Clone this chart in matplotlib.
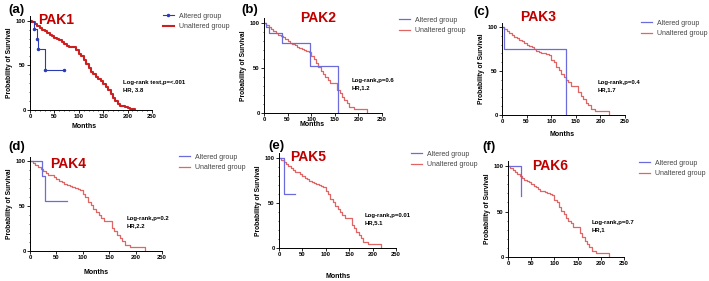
import matplotlib
matplotlib.use("Agg")
import matplotlib.pyplot as plt
from matplotlib.ticker import MultipleLocator

plt.rcParams['font.family'] = ['Liberation Sans', 'DejaVu Sans']

W, H = 709, 281

# unaltered group (shared cohort curve for b-f)
unalt_t = [0, 5, 10, 15, 20, 25, 30, 35, 40, 45, 50, 55, 60, 65, 70, 75, 80, 85, 90, 95,
           100, 105, 110, 115, 120, 125, 130, 135, 140, 150, 155, 160, 165, 170, 175, 180, 190, 218, 218]
unalt_s = [100, 98, 96, 93, 91, 89, 87, 85, 84, 82, 80, 78, 77, 75, 73, 72, 71, 70, 69, 68,
           63, 60, 55, 51, 47, 43, 40, 37, 33, 33, 26, 22, 18, 14, 11, 7, 4, 4, 0]

# PAK1 unaltered (larger cohort, smoother)
pak1_unalt_t = [0, 5, 10, 15, 20, 25, 30, 35, 40, 45, 50, 55, 60, 65, 70, 75, 80, 85, 90, 95,
                100, 105, 110, 115, 120, 125, 130, 135, 140, 145, 150, 155, 160, 165, 170,
                175, 180, 185, 190, 195, 200, 205, 210, 215]
pak1_unalt_s = [100, 98, 96, 94, 92, 90, 88, 86, 84, 83, 81, 79, 78, 76, 74, 72, 71, 70, 70, 67,
                63, 60, 56, 52, 47, 43, 40, 37, 35, 32, 29, 26, 22, 18, 13, 10, 7, 5, 4, 3,
                2, 1, 1, 0]

alt_t = {
    'PAK1': [0, 8, 15, 17, 30, 70],
    'PAK2': [0, 5, 10, 38, 97, 157, 157],
    'PAK3': [0, 5, 130, 130],
    'PAK4': [0, 23, 28, 70],
    'PAK5': [0, 8, 10, 35],
    'PAK6': [0, 28, 28],
}
alt_s = {
    'PAK1': [100, 91, 79, 68, 45, 45],
    'PAK2': [100, 95, 89, 78, 52, 0, 0],
    'PAK3': [100, 75, 0, 0],
    'PAK4': [100, 83, 56, 56],
    'PAK5': [100, 100, 60, 60],
    'PAK6': [100, 67, 67],
}
stats = {
    'PAK1': 'Log-rank test,p=<.001\nHR, 3.8',
    'PAK2': 'Log-rank,p=0.6\nHR,1.2',
    'PAK3': 'Log-rank,p=0.4\nHR,1.7',
    'PAK4': 'Log-rank,p=0.2\nHR,2.2',
    'PAK5': 'Log-rank,p=0.01\nHR,5.1',
    'PAK6': 'Log-rank,p=0.7\nHR,1',
}
panels = ['PAK1', 'PAK2', 'PAK3', 'PAK4', 'PAK5', 'PAK6']
letters = ['(a)', '(b)', '(c)', '(d)', '(e)', '(f)']

# layout in pixels: left, right, y of 0, y of 100
boxes = [(30, 152, 110, 20.7), (264, 382, 113, 23), (502, 625, 115, 27),
         (30, 162, 251, 161), (279, 396, 248, 158), (508, 624, 257, 166)]
letter_pos = [(8, 10), (241, 10), (473, 12), (8, 147), (268, 146), (482, 147)]
title_pos = [(38, 20), (300, 18), (520, 17), (50, 164), (290, 157), (532, 166)]
legend_pos = [(160, 10), (396, 14), (638, 17), (176, 151), (408, 148), (636, 157)]
stat_pos = [(123, 80), (352, 78), (598, 80), (127, 216), (365, 213), (592, 220)]
months_pos = [(84, 127), (312, 125), (562, 135), (96, 273), (338, 277), None]

fig = plt.figure(figsize=(W / 100, H / 100), dpi=100)


def fx(x):
    return x / W


def fy(y):
    return 1 - y / H


for i, name in enumerate(panels):
    l, r, y0, y100 = boxes[i]
    ph = (y0 - y100) * 1.05
    ax = fig.add_axes([fx(l), fy(y0), (r - l) / W, ph / H])

    if name == 'PAK1':
        red, blue, lw = '#cc1f1f', '#2b3bb5', 1.5
        ax.step(pak1_unalt_t, pak1_unalt_s, where='post', color=red, lw=lw, label='Unaltered group')
        ax.step(alt_t[name], alt_s[name], where='post', color=blue, lw=0.8,
                marker='o', ms=1.5, label='Altered group')
    else:
        red, blue, lw = '#e06666', '#6b6bdb', 0.9
        ax.step(unalt_t, unalt_s, where='post', color=red, lw=lw, label='Unaltered group')
        ax.step(alt_t[name], alt_s[name], where='post', color=blue, lw=0.9, label='Altered group')

    ax.set_xlim(0, 250)
    ax.set_ylim(0, 105)
    ax.set_xticks([0, 50, 100, 150, 200, 250])
    ax.set_yticks([0, 50, 100])
    ax.yaxis.set_minor_locator(MultipleLocator(10))
    if name == 'PAK1':
        ax.xaxis.set_minor_locator(MultipleLocator(10))
    ax.tick_params(labelsize=4.2, length=2, width=0.6, pad=1)
    ax.tick_params(which='minor', length=1, width=0.5)
    for lab in ax.get_xticklabels() + ax.get_yticklabels():
        lab.set_fontweight('bold')
    for s in ['top', 'right']:
        ax.spines[s].set_visible(False)
    for s in ['left', 'bottom']:
        ax.spines[s].set_linewidth(0.7)
    ax.set_ylabel('Probability of Survival', fontsize=4.8, fontweight='bold', labelpad=2)

    handles, labels = ax.get_legend_handles_labels()
    fig.legend(handles[::-1], labels[::-1], loc='upper left',
               bbox_to_anchor=(fx(legend_pos[i][0]), fy(legend_pos[i][1])),
               frameon=False, fontsize=5, handlelength=1.6, labelcolor='#444444',
               borderaxespad=0, labelspacing=0.5)

    fig.text(fx(letter_pos[i][0]), fy(letter_pos[i][1]), letters[i], fontsize=9.5,
             fontweight='bold', va='center', ha='left')
    fig.text(fx(title_pos[i][0]), fy(title_pos[i][1]), name, fontsize=10,
             fontweight='bold', color='#c00000', va='center', ha='left')
    fig.text(fx(stat_pos[i][0]), fy(stat_pos[i][1]), stats[name], fontsize=4.3,
             fontweight='bold', va='top', ha='left', linespacing=1.5)
    if months_pos[i] is not None:
        fig.text(fx(months_pos[i][0]), fy(months_pos[i][1]), 'Months', fontsize=5,
                 fontweight='bold', va='center', ha='center')

fig.savefig('out.png', dpi=100)
